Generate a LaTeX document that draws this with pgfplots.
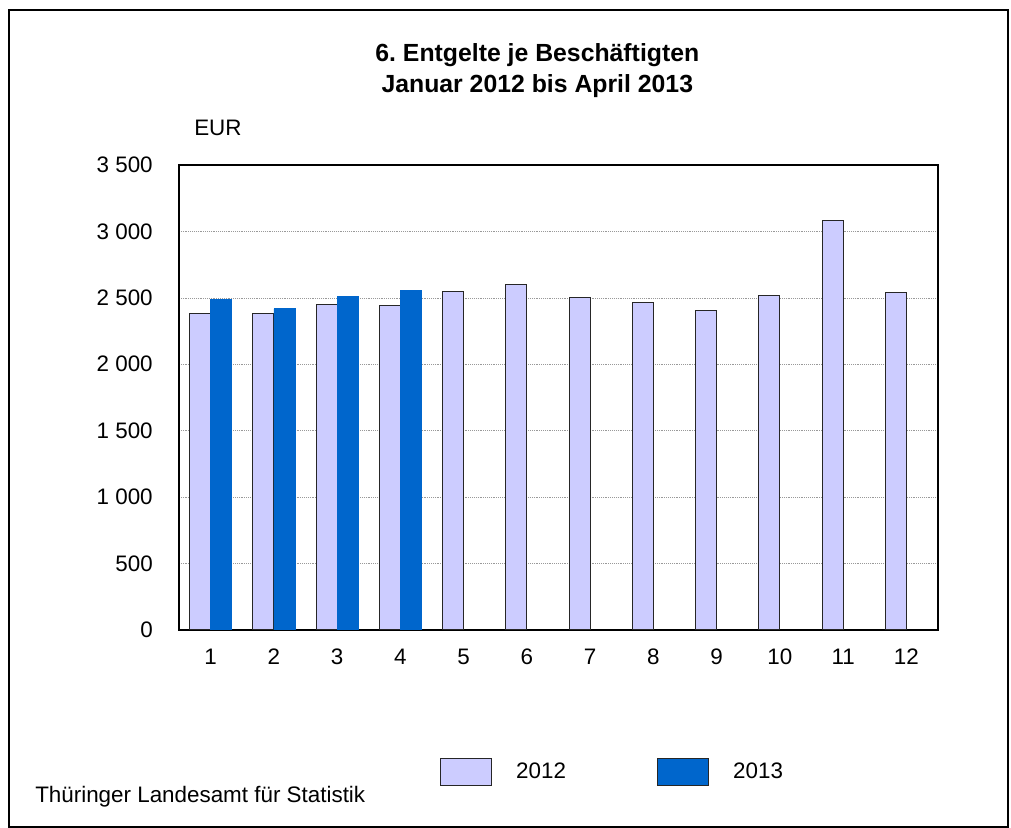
\documentclass[border=0pt]{standalone}
\usepackage{fontspec}
\setmainfont{Liberation Sans}
\usepackage{pgfplots}
\pgfplotsset{compat=1.18}
\definecolor{lav}{HTML}{CCCCFF}
\definecolor{blu}{HTML}{0066CC}
\newcommand\txt{\fontsize{16.8}{19}\selectfont}
\frenchspacing
\pgfplotsset{
  boxlegend/.style={legend image code/.code={
    \path[fill=#1, draw=black!85, line width=0.9pt] (0pt,-10.25pt) rectangle (38.5pt,10.25pt);}},
}

\begin{document}
\begin{tikzpicture}
\path[use as bounding box] (0,0) rectangle (758.25pt,621pt);
\draw[line width=1.2pt] (6.75pt,0.6pt) rectangle (756pt,613.5pt);
\node[anchor=base, font=\bfseries\fontsize{18.6}{22}\selectfont, inner sep=0pt] at (403pt,574.7pt)
  {6. Entgelte je Beschäftigten};
\node[anchor=base, font=\bfseries\fontsize{18.6}{22}\selectfont, inner sep=0pt] at (403pt,551.25pt)
  {Januar 2012 bis April 2013};
\node[anchor=base west, font=\txt, inner sep=0pt] at (145.5pt,519.2pt) {EUR};
\node[anchor=base west, font=\txt, inner sep=0pt] at (26.25pt,18.75pt) {Thüringer Landesamt für Statistik};
\begin{axis}[
  at={(134.25pt,148.5pt)}, anchor=south west,
  scale only axis, width=569.25pt, height=348.75pt,
  xmin=0.5, xmax=12.5, ymin=0, ymax=3500,
  xtick={1,...,12}, ytick={0,500,...,3500},
  tick style={draw=none},
  axis line style={line width=1.2pt},
  ymajorgrids, major grid style={densely dotted, gray!80, line width=0.5pt},
  tick label style={font=\txt},
  /pgf/number format/assume math mode=true,
  /pgf/number format/1000 sep={\ },
  scaled y ticks=false,
  yticklabel style={anchor=east, inner sep=0pt, xshift=-19.5pt},
  xticklabel style={anchor=north, inner sep=0pt, yshift=-14.25pt},
  legend columns=2,
  legend cell align=left,
  legend style={at={(0.343,-0.3054)}, anchor=west, draw=none, fill=none,
    inner sep=0pt, font=\txt, nodes={inner sep=0pt},
    /tikz/every odd column/.append style={column sep=18pt},
    /tikz/every even column/.append style={column sep=68pt}},
]
\addplot[ybar, bar width=15.75pt, bar shift=-7.875pt, fill=lav, draw=black!85, line width=0.9pt, boxlegend=lav]
  coordinates {(1,2383) (2,2383) (3,2450) (4,2443) (5,2548) (6,2600)
               (7,2503) (8,2463) (9,2405) (10,2518) (11,3080) (12,2538)};
\addplot[ybar, bar width=15.75pt, bar shift=7.875pt, fill=blu, draw=blu, line width=0.5pt, boxlegend=blu]
  coordinates {(1,2490) (2,2418) (3,2513) (4,2553)};
\legend{2012,2013}
\end{axis}
\end{tikzpicture}
\end{document}
